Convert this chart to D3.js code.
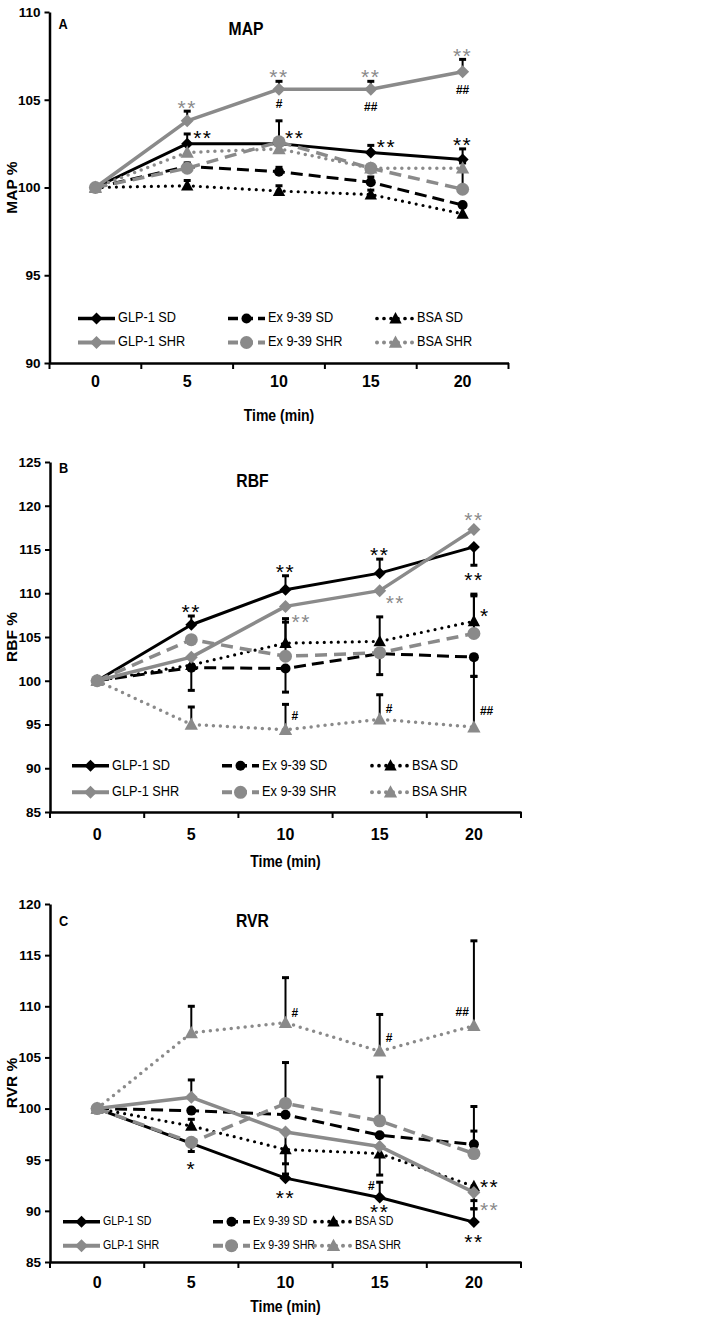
<!DOCTYPE html>
<html>
<head>
<meta charset="utf-8">
<script src="https://cdn.jsdelivr.net/npm/d3@7"></script>
<style>
  body { margin: 0; background: #fff; }
  text { font-family: "Liberation Sans", Arial, sans-serif; }
</style>
</head>
<body>
<svg id="fig" width="709" height="1321"></svg>
<script>
// ---- data ----
const times = [0, 5, 10, 15, 20];
const seriesNames = ["GLP-1 SD", "Ex 9-39 SD", "BSA SD", "GLP-1 SHR", "Ex 9-39 SHR", "BSA SHR"];

// MAP %  (rows follow seriesNames)
const mapPct = [
  [100, 102.5, 102.5, 102.0, 101.6],
  [100, 101.2, 100.9, 100.3, 99.0],
  [100, 100.1, 99.8, 99.6, 98.5],
  [100, 103.8, 105.6, 105.6, 106.6],
  [100, 101.1, 102.6, 101.1, 99.9],
  [100, 102.0, 102.2, 101.1, 101.1]
];
const mapErrUp = [
  [0, 0.55, 0, 0.4, 0.6],
  [0, 0.2, 0.25, 0.3, 0],
  [0, 0.3, 0.3, 0.25, 0],
  [0, 0.55, 0.45, 0.45, 0.7],
  [0, 0, 1.2, 0, 1.5],
  [0, 0, 0, 0, 0]
];
const mapErrDown = [
  [0, 0, 0, 0, 0], [0, 0, 0, 0, 0], [0, 0, 0, 0, 0],
  [0, 0, 0, 0, 0], [0, 0, 0, 0, 0], [0, 0, 0, 0, 0]
];
const mapTicks = [90, 95, 100, 105, 110];
const mapMarks = [
  {t: 5, v: 104.8, s: "**", c: "g", side: "c"},
  {t: 10, v: 106.6, s: "**", c: "g", side: "c"},
  {t: 15, v: 106.6, s: "**", c: "g", side: "c"},
  {t: 20, v: 107.8, s: "**", c: "g", side: "c"},
  {t: 5, v: 103.1, s: "**", c: "k", side: "r"},
  {t: 10, v: 103.1, s: "**", c: "k", side: "r"},
  {t: 15, v: 102.6, s: "**", c: "k", side: "r"},
  {t: 20, v: 102.7, s: "**", c: "k", side: "c"},
  {t: 10, v: 104.8, s: "#", c: "k", side: "c"},
  {t: 15, v: 104.6, s: "##", c: "k", side: "c"},
  {t: 20, v: 105.6, s: "##", c: "k", side: "c"}
];

// RBF %
const rbfPct = [
  [100, 106.4, 110.4, 112.3, 115.3],
  [100, 101.5, 101.4, 103.1, 102.7],
  [100, 101.8, 104.3, 104.5, 106.8],
  [100, 102.7, 108.5, 110.3, 117.3],
  [100, 104.7, 102.8, 103.2, 105.4],
  [100, 95.0, 94.4, 95.6, 94.7]
];
const rbfErrUp = [
  [0, 1.0, 1.6, 1.6, 0],
  [0, 0, 0, 0, 0],
  [0, 0, 2.4, 2.8, 3.1],
  [0, 0, 0, 0, 0],
  [0, 0, 4.3, 0, 4.3],
  [0, 2.0, 2.9, 2.8, 5.8]
];
const rbfErrDown = [
  [0, 0, 0, 0, 2.1],
  [0, 2.6, 2.7, 2.4, 2.2],
  [0, 0, 0, 0, 0],
  [0, 0, 0, 0, 0],
  [0, 0, 0, 0, 0],
  [0, 0, 0, 0, 0]
];
const rbfTicks = [85, 90, 95, 100, 105, 110, 115, 120, 125];
const rbfMarks = [
  {t: 5, v: 108.4, s: "**", c: "k", side: "c"},
  {t: 10, v: 113.0, s: "**", c: "k", side: "c"},
  {t: 15, v: 114.9, s: "**", c: "k", side: "c"},
  {t: 20, v: 112.1, s: "**", c: "k", side: "c"},
  {t: 10, v: 107.3, s: "**", c: "g", side: "r"},
  {t: 15, v: 109.4, s: "**", c: "g", side: "r"},
  {t: 20, v: 118.9, s: "**", c: "g", side: "c"},
  {t: 20, v: 108.0, s: "*", c: "k", side: "r"},
  {t: 10, v: 96.0, s: "#", c: "k", side: "r"},
  {t: 15, v: 96.8, s: "#", c: "k", side: "r"},
  {t: 20, v: 96.6, s: "##", c: "k", side: "r"}
];

// RVR %
const rvrPct = [
  [100, 96.6, 93.2, 91.3, 88.9],
  [100, 99.8, 99.4, 97.4, 96.5],
  [100, 98.3, 96.0, 95.6, 92.4],
  [100, 101.1, 97.7, 96.3, 91.8],
  [100, 96.7, 100.5, 98.8, 95.6],
  [100, 107.4, 108.4, 105.6, 108.1]
];
const rvrErrUp = [
  [0, 0, 0, 1.5, 1.3],
  [0, 0, 0, 0, 1.3],
  [0, 0.65, 0, 0, 0],
  [0, 1.7, 0, 0, 0],
  [0, 0, 4.0, 4.3, 4.6],
  [0, 2.6, 4.4, 3.6, 8.3]
];
const rvrErrDown = [
  [0, 0, 0, 0, 0],
  [0, 0, 0, 0, 0],
  [0, 0, 1.4, 2.1, 2.2],
  [0, 0, 4.1, 0, 0.8],
  [0, 0.9, 0, 0, 0],
  [0, 0, 0, 0, 0]
];
const rvrTicks = [85, 90, 95, 100, 105, 110, 115, 120];
const rvrMarks = [
  {t: 10, v: 109.35, s: "#", c: "k", side: "r"},
  {t: 15, v: 106.9, s: "#", c: "k", side: "r"},
  {t: 20, v: 109.5, s: "##", c: "k", side: "l"},
  {t: 5, v: 94.6, s: "*", c: "k", side: "c"},
  {t: 10, v: 91.7, s: "**", c: "k", side: "c"},
  {t: 15, v: 90.4, s: "**", c: "k", side: "c"},
  {t: 15, v: 92.5, s: "#", c: "k", side: "l"},
  {t: 20, v: 92.8, s: "**", c: "k", side: "r"},
  {t: 20, v: 90.6, s: "**", c: "g", side: "r"},
  {t: 20, v: 87.4, s: "**", c: "k", side: "c"}
];

// ---- styles ----
const BLACK = "#000";
const GRAY = "#8a8a8a";
const SX = 0.85;   // horizontal squeeze, the original uses a narrow face
const seriesStyle = [
  {color: BLACK, width: 3, dash: null, cap: "butt", marker: "diamond", r: 6},
  {color: BLACK, width: 3, dash: "12,6", cap: "butt", marker: "circle", r: 5},
  {color: BLACK, width: 3.2, dash: "0,7", cap: "round", marker: "triangle", r: 6.5},
  {color: GRAY, width: 3.5, dash: null, cap: "butt", marker: "diamond", r: 6.5},
  {color: GRAY, width: 3.5, dash: "12,7", cap: "butt", marker: "circle", r: 6.5},
  {color: GRAY, width: 3.5, dash: "0,7", cap: "round", marker: "triangle", r: 7}
];

function markerPath(type, r) {
  if (type === "diamond") return `M0,${-r}L${r},0L0,${r}L${-r},0Z`;
  if (type === "triangle") return `M0,${-r}L${r * 0.95},${r * 0.75}L${-r * 0.95},${r * 0.75}Z`;
  return d3.symbol(d3.symbolCircle, Math.PI * r * r)();
}

// text squeezed horizontally around its anchor point
function narrowText(g, x, y, str, size, bold, anchor) {
  return g.append("text")
    .attr("transform", `translate(${x},${y}) scale(${SX},1)`)
    .attr("text-anchor", anchor || "middle")
    .attr("dominant-baseline", "middle")
    .attr("font-size", size)
    .style("font-weight", bold ? "bold" : "normal")
    .text(str);
}

const svg = d3.select("#fig");

const panels = [
  {values: mapPct, up: mapErrUp, dn: mapErrDown, marks: mapMarks, ticks: mapTicks,
   domain: [90, 110], top: 12, bottom: 363, left: 49.5, right: 508.5,
   title: "MAP", titleDy: 18, letter: "A", letterDy: 13, ylabel: "MAP %",
   xlabelDy: 20, timeDy: 54, legendSize: 15,
   legendX: [78, 228, 377], legendY: [318.5, 342.5]},
  {values: rbfPct, up: rbfErrUp, dn: rbfErrDown, marks: rbfMarks, ticks: rbfTicks,
   domain: [85, 125], top: 462, bottom: 812, left: 50, right: 521,
   title: "RBF", titleDy: 20, letter: "B", letterDy: 7.5, ylabel: "RBF %",
   xlabelDy: 24, timeDy: 50.5, legendSize: 15,
   legendX: [72, 222, 372], legendY: [765.7, 792.3]},
  {values: rvrPct, up: rvrErrUp, dn: rvrErrDown, marks: rvrMarks, ticks: rvrTicks,
   domain: [85, 120], top: 904, bottom: 1262, left: 50, right: 521,
   title: "RVR", titleDy: 18, letter: "C", letterDy: 18.5, ylabel: "RVR %",
   xlabelDy: 22, timeDy: 46, legendSize: 12.5,
   legendX: [63, 213, 315], legendY: [1221.7, 1245.7]}
];

panels.forEach(p => drawPanel(p));

function drawPanel(p) {
  const g = svg.append("g");
  const x = d3.scaleBand().domain(times).range([p.left, p.right]);
  const y = d3.scaleLinear().domain(p.domain).range([p.bottom, p.top]);
  const cx = t => x(t) + x.bandwidth() / 2;

  // y axis
  const yAxis = g.append("g")
    .attr("transform", `translate(${p.left},0)`)
    .call(d3.axisLeft(y).tickValues(p.ticks).tickSize(5).tickSizeOuter(0).tickPadding(4));
  yAxis.attr("font-family", null);
  yAxis.select(".domain").attr("stroke", BLACK).attr("stroke-width", 2.5);
  yAxis.selectAll(".tick line").attr("stroke", BLACK).attr("stroke-width", 2);
  yAxis.selectAll(".tick text").attr("fill", BLACK)
    .style("font-size", "13.5px").style("font-weight", "bold");

  // x axis: boundary ticks, labels at the band centres
  const xAxis = g.append("g")
    .attr("transform", `translate(0,${p.bottom})`)
    .call(d3.axisBottom(x).tickSize(0).tickPadding(p.xlabelDy - 7));
  xAxis.attr("font-family", null);
  xAxis.select(".domain").attr("stroke", BLACK).attr("stroke-width", 2.5);
  xAxis.selectAll(".tick text").attr("fill", BLACK)
    .style("font-size", "16px").style("font-weight", "bold");
  const bounds = times.map(t => x(t)).concat([x(times[times.length - 1]) + x.bandwidth()]);
  xAxis.selectAll("line.bnd").data(bounds).enter().append("line")
    .attr("class", "bnd")
    .attr("x1", d => d).attr("x2", d => d)
    .attr("y1", 0).attr("y2", 6)
    .attr("stroke", BLACK).attr("stroke-width", 2);

  // labels
  narrowText(g, (p.left + p.right) / 2, p.bottom + p.timeDy, "Time (min)", 16.5, true);
  g.append("text")
    .attr("transform", `translate(13,${(p.top + p.bottom) / 2}) rotate(-90)`)
    .attr("text-anchor", "middle").attr("dominant-baseline", "middle")
    .attr("font-size", 15.5).style("font-weight", "bold").text(p.ylabel);
  narrowText(g, cx(10) - 33, p.top + p.titleDy, p.title, 18.5, true);
  narrowText(g, p.left + 13.5, p.top + p.letterDy, p.letter, 15, true);

  // error bars (black, one-sided)
  const bars = [];
  p.values.forEach((row, si) => row.forEach((v, ti) => {
    if (p.up[si][ti] > 0) bars.push({t: times[ti], v0: v, v1: v + p.up[si][ti]});
    if (p.dn[si][ti] > 0) bars.push({t: times[ti], v0: v, v1: v - p.dn[si][ti]});
  }));
  const eb = g.append("g");
  eb.selectAll("line.stem").data(bars).enter().append("line")
    .attr("x1", d => cx(d.t)).attr("x2", d => cx(d.t))
    .attr("y1", d => y(d.v0)).attr("y2", d => y(d.v1))
    .attr("stroke", BLACK).attr("stroke-width", 2);
  eb.selectAll("line.cap").data(bars).enter().append("line")
    .attr("x1", d => cx(d.t) - 3.5).attr("x2", d => cx(d.t) + 3.5)
    .attr("y1", d => y(d.v1)).attr("y2", d => y(d.v1))
    .attr("stroke", BLACK).attr("stroke-width", 3);

  // series
  const line = d3.line().x((d, i) => cx(times[i])).y(d => y(d));
  p.values.forEach((row, si) => {
    const st = seriesStyle[si];
    g.append("path").datum(row)
      .attr("d", line)
      .attr("fill", "none")
      .attr("stroke", st.color)
      .attr("stroke-width", st.width)
      .attr("stroke-dasharray", st.dash)
      .attr("stroke-linecap", st.cap)
      .attr("stroke-linejoin", "round");
    g.selectAll(null).data(row).enter().append("path")
      .attr("transform", (d, i) => `translate(${cx(times[i])},${y(d)})`)
      .attr("d", markerPath(st.marker, st.r))
      .attr("fill", st.color);
  });

  // significance marks
  p.marks.forEach(m => {
    const star = m.s.indexOf("*") >= 0;
    const fs = star ? 21 : 12;
    const t = g.append("text")
      .attr("fill", m.c === "g" ? GRAY : BLACK)
      .attr("font-size", fs)
      .style("font-weight", star ? "normal" : "bold")
      .attr("letter-spacing", star ? 1.5 : 0)
      .attr("y", y(m.v) + (star ? 0.57 * fs : 0.36 * fs))
      .text(m.s);
    if (m.side === "r") t.attr("x", cx(m.t) + 6).attr("text-anchor", "start");
    else if (m.side === "l") t.attr("x", cx(m.t) - 5).attr("text-anchor", "end");
    else t.attr("x", cx(m.t)).attr("text-anchor", "middle");
  });

  // legend: SD row then SHR row
  seriesNames.forEach((name, si) => {
    const st = seriesStyle[si];
    const lx = p.legendX[si % 3];
    const ly = p.legendY[Math.floor(si / 3)];
    const lg = g.append("g");
    lg.append("line")
      .attr("x1", lx).attr("x2", lx + 37).attr("y1", ly).attr("y2", ly)
      .attr("stroke", st.color).attr("stroke-width", st.width + 0.5)
      .attr("stroke-dasharray", st.dash ? (st.cap === "round" ? "0,7" : "10,5") : null)
      .attr("stroke-linecap", st.cap);
    lg.append("path")
      .attr("transform", `translate(${lx + 18.5},${ly})`)
      .attr("d", markerPath(st.marker, st.r))
      .attr("fill", st.color);
    narrowText(lg, lx + 40, ly, name, p.legendSize, false, "start");
  });
}
</script>
</body>
</html>
